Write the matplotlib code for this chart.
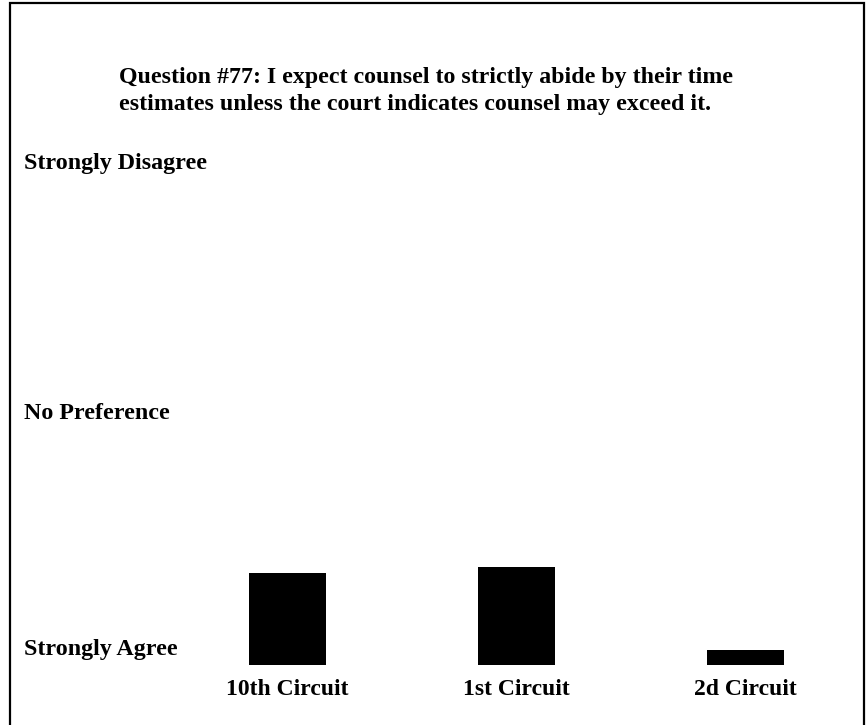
import matplotlib.pyplot as plt
import matplotlib.transforms as mtransforms
from matplotlib.patches import Rectangle

plt.rcParams['font.family'] = ['Liberation Serif', 'DejaVu Serif']
plt.rcParams['font.weight'] = 'bold'

circuits = ["10th Circuit", "1st Circuit", "2d Circuit"]
mean_response = [1.76, 1.81, 1.12]
scale_labels = ["Strongly Agree", "No Preference", "Strongly Disagree"]
scale_values = [1.13, 3.07, 5.13]
title = ("Question #77: I expect counsel to strictly abide by their time\n"
         "estimates unless the court indicates counsel may exceed it.")

fig = plt.figure(figsize=(8.66, 7.25), dpi=100)
ax = fig.add_axes([200 / 866, 60 / 725, 640 / 866, 486 / 725])

x = range(len(circuits))
# bars start at the "Strongly Agree" end of the scale
ax.bar(x, [v - 1 for v in mean_response], bottom=1, width=0.336, color="black")

ax.set_xlim(-0.382, 2.413)
ax.set_ylim(1, 5)
ax.set_xticks(list(x))
ax.set_xticklabels(circuits, fontsize=17, fontweight="bold")
ax.tick_params(axis="x", length=0, pad=10)
ax.set_yticks([])
for s in ax.spines.values():
    s.set_visible(False)

# scale labels at the left edge of the figure
trans = mtransforms.blended_transform_factory(fig.transFigure, ax.transData)
for lab, v in zip(scale_labels, scale_values):
    ax.text(24 / 866, v, lab, transform=trans, ha="left", va="center",
            fontsize=17.3, fontweight="bold")

fig.text(119 / 866, 1 - 91 / 725, title, ha="left", va="center",
         fontsize=17.2, fontweight="bold", linespacing=1.35)

# frame round the whole chart
fig.patches.append(Rectangle((10 / 866, -0.05), 854 / 866, 1.05 - 3 / 725,
                             transform=fig.transFigure, fill=False,
                             edgecolor="black", linewidth=1.6))

fig.savefig("out.png", dpi=100)
